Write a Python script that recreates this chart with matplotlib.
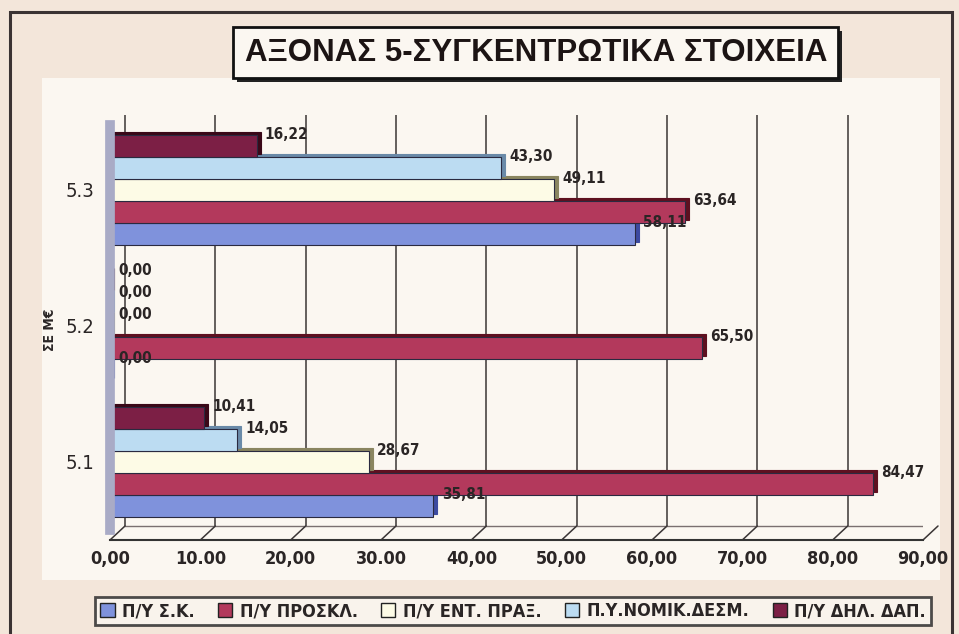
import matplotlib
matplotlib.use("Agg")
import matplotlib.pyplot as plt
import matplotlib.transforms as mtransforms
from matplotlib.patches import Rectangle, Patch, ConnectionPatch
import numpy as np

categories = ["5.1", "5.2", "5.3"]
series_names = ["Π/Υ Σ.Κ.", "Π/Υ ΠΡΟΣΚΛ.", "Π/Υ ΕΝΤ. ΠΡΑΞ.", "Π.Υ.ΝΟΜΙΚ.ΔΕΣΜ.", "Π/Υ ΔΗΛ. ΔΑΠ."]
s_sk = [35.81, 0.00, 58.11]
s_prosk = [84.47, 65.50, 63.64]
s_ent = [28.67, 0.00, 49.11]
s_nomik = [14.05, 0.00, 43.30]
s_dil = [10.41, 0.00, 16.22]
xtick_values = [0, 10, 20, 30, 40, 50, 60, 70, 80, 90]
xtick_labels = ["0,00", "10.00", "20,00", "30.00", "40,00", "50,00", "60,00", "70,00", "80,00", "90,00"]
title = "ΑΞΟΝΑΣ 5-ΣΥΓΚΕΝΤΡΩΤΙΚΑ ΣΤΟΙΧΕΙΑ"
ylabel = "ΣΕ Μ€"

series = [s_sk, s_prosk, s_ent, s_nomik, s_dil]
face = ["#7f92dc", "#b3395c", "#fdfbe6", "#bcdcf2", "#7c1f45"]
side = ["#3c4aa0", "#5e1020", "#8a8560", "#6a8aa8", "#3a0818"]

NARROW = dict(family="DejaVu Sans", stretch="condensed")
BOLD = ["Liberation Sans", "DejaVu Sans"]

W, H = 959, 634
fig = plt.figure(figsize=(W / 100, H / 100), dpi=100, facecolor="#f3e6da")

def fx(px):
    return px / W

def fy(py):
    return 1 - py / H

# lighter plot region
fig.patches.append(Rectangle((fx(42), fy(580)), fx(940 - 42), (580 - 78) / H,
                             transform=fig.transFigure, facecolor="#fbf7f1",
                             edgecolor="none", zorder=-5))
# outer frame
fig.patches.append(Rectangle((fx(10), fy(640)), fx(952 - 10), (640 - 12) / H,
                             transform=fig.transFigure, facecolor="none",
                             edgecolor="#3a3333", lw=2.2, zorder=1))

ax = fig.add_axes([fx(110), fy(540), fx(923 - 110), (540 - 115) / H])
ax.set_facecolor("none")
ax.set_xlim(0, 90)
ax.set_ylim(-0.574, 2.55)

DX, DY = 15, 14  # depth of the pseudo-3D floor / wall (pixels)
blend = mtransforms.blended_transform_factory(ax.transData, ax.transAxes)
back = mtransforms.offset_copy(blend, fig=fig, x=DX, y=DY, units="dots")

# back wall grid lines
ax.vlines(xtick_values, 0, 1, transform=back, colors="#3a3535", lw=1.1, zorder=1)
ax.plot([xtick_values[0], xtick_values[-1]], [1, 1], transform=back, color="#9a9090", lw=1, zorder=1)
ax.plot([xtick_values[0], xtick_values[-1]], [0, 0], transform=back, color="#7a7070", lw=1, zorder=1)
# floor slanted ticks
for v in xtick_values:
    cp = ConnectionPatch(xyA=(v, 0), coordsA=blend, xyB=(v, 0), coordsB=back,
                         color="#3a3535", lw=1.1, zorder=1)
    ax.add_artist(cp)

y = np.arange(len(categories))
bh = 0.162
n = len(series)
shadow_tr = mtransforms.offset_copy(ax.transData, fig=fig, x=4, y=3, units="dots")
for i, vals in enumerate(series):
    pos = y + (i - (n - 1) / 2) * bh
    ax.barh(pos, vals, height=bh, color=side[i], edgecolor=side[i], lw=0.8,
            transform=shadow_tr, zorder=2 + i * 0.1)
    ax.barh(pos, vals, height=bh, color=face[i], edgecolor="#2a2a40", lw=0.8,
            zorder=2.05 + i * 0.1)
    for p, v in zip(pos, vals):
        ax.annotate(f"{v:.2f}".replace(".", ","), (v, p + bh / 2),
                    xytext=(6, 0), textcoords="offset points",
                    ha="left", va="center", fontsize=11, fontweight="bold",
                    color="#2a2525", zorder=5, **NARROW)

ax.set_xticks(xtick_values)
ax.set_xticklabels(xtick_labels, fontsize=13, fontweight="bold", color="#2a2525", **NARROW)
ax.set_yticks(y)
ax.set_yticklabels(categories, fontsize=14.5, color="#2a2525", **NARROW)
ax.tick_params(axis="y", length=0, pad=11)
ax.tick_params(axis="x", length=0, pad=7)
for s in ["top", "right"]:
    ax.spines[s].set_visible(False)
ax.spines["left"].set_color("#a9abc6")
ax.spines["left"].set_linewidth(7)
ax.spines["left"].set_bounds(-0.5, 2.48)
ax.spines["bottom"].set_color("#333333")
ax.spines["bottom"].set_linewidth(1.5)

fig.text(fx(50), fy(330), ylabel, rotation=90, ha="center", va="center",
         fontsize=10, fontweight="bold", color="#2a2525", **NARROW)

# title box with shadow
fig.patches.append(Rectangle((fx(237), fy(82)), fx(605), 51 / H, transform=fig.transFigure,
                             facecolor="#222222", edgecolor="none", zorder=2))
fig.patches.append(Rectangle((fx(233), fy(78)), fx(605), 51 / H, transform=fig.transFigure,
                             facecolor="#fbf7f1", edgecolor="#111111", lw=2, zorder=3))
fig.text(fx(536), fy(53), title, ha="center", va="center", fontsize=22.5,
         fontweight="heavy", family=BOLD, color="#1c1414", zorder=4)

handles = [Patch(facecolor=face[i], edgecolor="#222222", lw=1) for i in range(n)]
leg = fig.legend(handles, series_names, loc="center", bbox_to_anchor=(fx(513), fy(611)),
                 ncol=5, frameon=True, fancybox=False, handlelength=0.8, handleheight=0.8,
                 handletextpad=0.4, columnspacing=1.3, borderpad=0.3,
                 prop={"family": "DejaVu Sans", "stretch": "condensed", "weight": "bold", "size": 13})
leg.get_frame().set_edgecolor("#222222")
leg.get_frame().set_linewidth(2)
leg.get_frame().set_facecolor("#fbf7f1")
for t in leg.get_texts():
    t.set_color("#2a2525")

fig.savefig("out.png", dpi=100, facecolor=fig.get_facecolor())
